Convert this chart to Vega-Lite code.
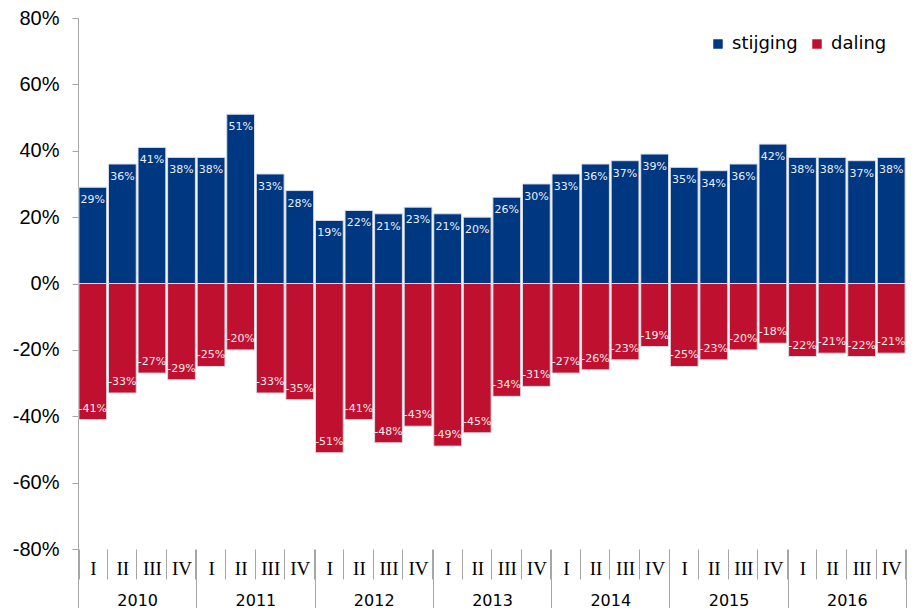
{
  "$schema": "https://vega.github.io/schema/vega-lite/v6.json",
  "width": 828,
  "height": 531,
  "autosize": {"type": "none"},
  "padding": {"left": 78, "top": 18, "right": 7, "bottom": 59},
  "background": "white",
  "config": {
    "view": {"stroke": null},
    "font": "DejaVu Sans",
    "locale": {"number": {"decimal": ".", "thousands": ",", "grouping": [3], "currency": ["$", ""], "minus": "-"}}
  },
  "data": {"values": [
    {"key": "2010-I", "year": "2010", "series": "stijging", "value": 0.29},
    {"key": "2010-II", "year": "2010", "series": "stijging", "value": 0.36},
    {"key": "2010-III", "year": "2010", "series": "stijging", "value": 0.41},
    {"key": "2010-IV", "year": "2010", "series": "stijging", "value": 0.38},
    {"key": "2011-I", "year": "2011", "series": "stijging", "value": 0.38},
    {"key": "2011-II", "year": "2011", "series": "stijging", "value": 0.51},
    {"key": "2011-III", "year": "2011", "series": "stijging", "value": 0.33},
    {"key": "2011-IV", "year": "2011", "series": "stijging", "value": 0.28},
    {"key": "2012-I", "year": "2012", "series": "stijging", "value": 0.19},
    {"key": "2012-II", "year": "2012", "series": "stijging", "value": 0.22},
    {"key": "2012-III", "year": "2012", "series": "stijging", "value": 0.21},
    {"key": "2012-IV", "year": "2012", "series": "stijging", "value": 0.23},
    {"key": "2013-I", "year": "2013", "series": "stijging", "value": 0.21},
    {"key": "2013-II", "year": "2013", "series": "stijging", "value": 0.20},
    {"key": "2013-III", "year": "2013", "series": "stijging", "value": 0.26},
    {"key": "2013-IV", "year": "2013", "series": "stijging", "value": 0.30},
    {"key": "2014-I", "year": "2014", "series": "stijging", "value": 0.33},
    {"key": "2014-II", "year": "2014", "series": "stijging", "value": 0.36},
    {"key": "2014-III", "year": "2014", "series": "stijging", "value": 0.37},
    {"key": "2014-IV", "year": "2014", "series": "stijging", "value": 0.39},
    {"key": "2015-I", "year": "2015", "series": "stijging", "value": 0.35},
    {"key": "2015-II", "year": "2015", "series": "stijging", "value": 0.34},
    {"key": "2015-III", "year": "2015", "series": "stijging", "value": 0.36},
    {"key": "2015-IV", "year": "2015", "series": "stijging", "value": 0.42},
    {"key": "2016-I", "year": "2016", "series": "stijging", "value": 0.38},
    {"key": "2016-II", "year": "2016", "series": "stijging", "value": 0.38},
    {"key": "2016-III", "year": "2016", "series": "stijging", "value": 0.37},
    {"key": "2016-IV", "year": "2016", "series": "stijging", "value": 0.38},
    {"key": "2010-I", "year": "2010", "series": "daling", "value": -0.41},
    {"key": "2010-II", "year": "2010", "series": "daling", "value": -0.33},
    {"key": "2010-III", "year": "2010", "series": "daling", "value": -0.27},
    {"key": "2010-IV", "year": "2010", "series": "daling", "value": -0.29},
    {"key": "2011-I", "year": "2011", "series": "daling", "value": -0.25},
    {"key": "2011-II", "year": "2011", "series": "daling", "value": -0.20},
    {"key": "2011-III", "year": "2011", "series": "daling", "value": -0.33},
    {"key": "2011-IV", "year": "2011", "series": "daling", "value": -0.35},
    {"key": "2012-I", "year": "2012", "series": "daling", "value": -0.51},
    {"key": "2012-II", "year": "2012", "series": "daling", "value": -0.41},
    {"key": "2012-III", "year": "2012", "series": "daling", "value": -0.48},
    {"key": "2012-IV", "year": "2012", "series": "daling", "value": -0.43},
    {"key": "2013-I", "year": "2013", "series": "daling", "value": -0.49},
    {"key": "2013-II", "year": "2013", "series": "daling", "value": -0.45},
    {"key": "2013-III", "year": "2013", "series": "daling", "value": -0.34},
    {"key": "2013-IV", "year": "2013", "series": "daling", "value": -0.31},
    {"key": "2014-I", "year": "2014", "series": "daling", "value": -0.27},
    {"key": "2014-II", "year": "2014", "series": "daling", "value": -0.26},
    {"key": "2014-III", "year": "2014", "series": "daling", "value": -0.23},
    {"key": "2014-IV", "year": "2014", "series": "daling", "value": -0.19},
    {"key": "2015-I", "year": "2015", "series": "daling", "value": -0.25},
    {"key": "2015-II", "year": "2015", "series": "daling", "value": -0.23},
    {"key": "2015-III", "year": "2015", "series": "daling", "value": -0.20},
    {"key": "2015-IV", "year": "2015", "series": "daling", "value": -0.18},
    {"key": "2016-I", "year": "2016", "series": "daling", "value": -0.22},
    {"key": "2016-II", "year": "2016", "series": "daling", "value": -0.21},
    {"key": "2016-III", "year": "2016", "series": "daling", "value": -0.22},
    {"key": "2016-IV", "year": "2016", "series": "daling", "value": -0.21}
  ]},
  "layer": [
    {
      "encoding": {
        "x": {
          "field": "key", "type": "nominal", "sort": null,
          "scale": {"paddingInner": 0.06, "paddingOuter": 0.03},
          "axis": {
            "title": null, "orient": "bottom",
            "labelExpr": "split(datum.label, '-')[1]",
            "labelFont": "Liberation Serif", "labelFontSize": 19, "labelColor": "#000000",
            "labelAngle": 0, "domain": false, "tickBand": "extent", "tickSize": 30,
            "tickColor": "#a6a6a6", "labelPadding": -20
          }
        },
        "y": {
          "field": "value", "type": "quantitative", "stack": null,
          "scale": {"domain": [-0.8, 0.8], "nice": false},
          "axis": {
            "title": null, "values": [-0.8, -0.6, -0.4, -0.2, 0, 0.2, 0.4, 0.6, 0.8],
            "format": ".0%", "grid": false, "domainColor": "#a6a6a6", "tickColor": "#a6a6a6",
            "tickSize": 6, "labelPadding": 13, "labelFont": "Liberation Sans",
            "labelFontSize": 20, "labelColor": "#000000"
          }
        }
      },
      "layer": [
        {
          "mark": {"type": "bar", "stroke": "#d9dde6", "strokeWidth": 1},
          "encoding": {
            "color": {
              "field": "series", "type": "nominal",
              "scale": {"domain": ["stijging", "daling"], "range": ["#003781", "#c0102f"]},
              "legend": {
                "title": null, "orient": "none", "legendX": 631, "legendY": 17,
                "direction": "horizontal", "symbolType": "square", "symbolSize": 90,
                "symbolStrokeWidth": 0, "labelFont": "DejaVu Sans", "labelFontSize": 18,
                "labelColor": "#000000", "columnPadding": 10, "labelOffset": 5
              }
            }
          }
        },
        {
          "transform": [{"filter": "datum.series == 'stijging'"}],
          "mark": {"type": "text", "dy": 13, "baseline": "middle", "fontSize": 11, "font": "DejaVu Sans", "color": "#ffffff", "opacity": 0.92},
          "encoding": {"text": {"field": "value", "type": "quantitative", "format": ".0%"}}
        },
        {
          "transform": [{"filter": "datum.series == 'daling'"}],
          "mark": {"type": "text", "dy": -11, "baseline": "middle", "fontSize": 11, "font": "DejaVu Sans", "color": "#ffffff", "opacity": 0.92},
          "encoding": {"text": {"field": "value", "type": "quantitative", "format": ".0%"}}
        }
      ]
    },
    {
      "mark": {"type": "rule", "opacity": 0},
      "encoding": {
        "x": {
          "field": "year", "type": "nominal", "sort": null,
          "scale": {"padding": 0},
          "axis": {
            "title": null, "orient": "bottom",
            "labelFont": "DejaVu Sans", "labelFontSize": 16, "labelColor": "#000000",
            "labelAngle": 0, "domain": false, "tickBand": "extent", "tickSize": 62,
            "tickColor": "#a6a6a6", "labelPadding": -19
          }
        }
      }
    }
  ],
  "resolve": {"scale": {"x": "independent"}}
}
